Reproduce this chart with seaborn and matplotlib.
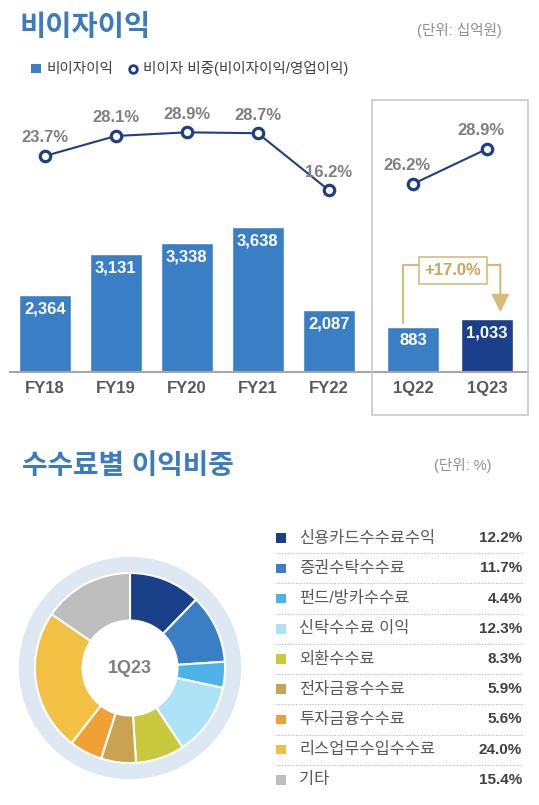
import matplotlib
matplotlib.use("Agg")
import matplotlib.pyplot as plt
from matplotlib.patches import Patch, Rectangle
from matplotlib.lines import Line2D
import seaborn as sns
import numpy as np
import pandas as pd

# yearly non-interest income (KRW bn) and its share of operating income (%)
years = ["FY18", "FY19", "FY20", "FY21", "FY22"]
nii_year = [2364, 3131, 3338, 3638, 2087]
share_year = [23.7, 28.1, 28.9, 28.7, 16.2]

# quarterly
quarters = ["1Q22", "1Q23"]
nii_q = [883, 1033]
share_q = [26.2, 28.9]
growth_label = "+17.0%"

# fee income mix, 1Q23 (%)
fee_names = ["신용카드수수료수익", "증권수탁수수료", "펀드/방카수수료", "신탁수수료 이익",
             "외환수수료", "전자금융수수료", "투자금융수수료", "리스업무수입수수료", "기타"]
fee_share = [12.2, 11.7, 4.4, 12.3, 8.3, 5.9, 5.6, 24.0, 15.4]
fee_colors = ["#1b408a", "#3a7fc6", "#4cb2e8", "#ade2f7", "#c9c93d",
              "#c9a352", "#f0a035", "#f2c043", "#bdbdbd"]

BLUE = "#3a7fc6"
NAVY = "#1e3f85"
GRAY_TXT = "#7f7f7f"
DARK_TXT = "#595959"
GOLD = "#d8bb7a"

sns.set_theme(style="white")
plt.rcParams["font.family"] = ["Liberation Sans", "Noto Sans CJK KR", "DejaVu Sans"]

W, H = 539, 805
fig = plt.figure(figsize=(W / 100, H / 100), dpi=100)


def box(l, t, r, b):
    return [l / W, 1 - b / H, (r - l) / W, (b - t) / H]


def fx(x):
    return x / W


def fy(y):
    return 1 - y / H


# ---- titles / legend ----
fig.text(fx(20), fy(28), "비이자이익", fontsize=20.5, fontweight="bold", color="#3b7cbf",
         ha="left", va="center")
fig.text(fx(502), fy(31), "(단위: 십억원)", fontsize=10.5, color="#8f8f8f", ha="right", va="center")

handles = [Patch(facecolor=BLUE, edgecolor="none"),
           Line2D([], [], linestyle="none", marker="o", markersize=5.5, markerfacecolor="white",
                  markeredgecolor=NAVY, markeredgewidth=2)]
fig.legend(handles, ["비이자이익", "비이자 비중(비이자이익/영업이익)"], loc="center left",
           bbox_to_anchor=(fx(18), fy(69)), ncol=2, frameon=False, fontsize=10.5,
           handlelength=0.65, handleheight=0.65, handletextpad=0.4, columnspacing=1.0,
           labelcolor="#404040")

fig.text(fx(22), fy(467), "수수료별 이익비중", fontsize=20, fontweight="bold", color="#3b7cbf",
         ha="left", va="center")
fig.text(fx(492), fy(465), "(단위: %)", fontsize=10.5, color="#8f8f8f", ha="right", va="center")

line_kw = dict(color=NAVY, linewidth=1.5, marker="o", markersize=7.5, markerfacecolor="white",
               markeredgecolor=NAVY, markeredgewidth=2.3)


def style_axes(ax, axl):
    for a in (ax, axl):
        a.set_xlabel("")
        a.set_ylabel("")
        a.set_yticks([])
        for s in ("left", "right", "top"):
            a.spines[s].set_visible(False)
    axl.spines["bottom"].set_visible(False)
    ax.spines["bottom"].set_color("#a6a6a6")
    ax.spines["bottom"].set_linewidth(1.5)
    ax.tick_params(axis="x", length=0, pad=6.5, labelsize=12, labelcolor=DARK_TXT)
    for lbl in ax.get_xticklabels():
        lbl.set_fontweight("bold")
    ax.patch.set_alpha(0)
    axl.patch.set_alpha(0)


# ---- yearly panel ----
ax_y = fig.add_axes(box(10, 110, 370, 372))
df_y = pd.DataFrame({"year": years, "nii": nii_year})
sns.barplot(data=df_y, x="year", y="nii", color=BLUE, saturation=1, width=0.73, ax=ax_y)
ax_y.set_ylim(922, 922 + 262 / 0.0534)
for i, v in enumerate(nii_year):
    ax_y.annotate(f"{v:,}", (i, v), xytext=(0, -10), textcoords="offset points", ha="center",
                  va="center", color="white", fontweight="bold", fontsize=12)

ax_yl = ax_y.twinx()
sns.lineplot(x=np.arange(len(years)), y=share_year, ax=ax_yl, **line_kw)
ax_yl.set_ylim(-23.7, 33.8)
for i, v in enumerate(share_year):
    ax_yl.annotate(f"{v:.1f}%", (i, v), xytext=(0, 13), textcoords="offset points", ha="center",
                   va="center", color=GRAY_TXT, fontweight="bold", fontsize=12)
ax_y.set_xlim(-0.49, 4.58)
ax_yl.set_xlim(-0.49, 4.58)
style_axes(ax_y, ax_yl)

# ---- quarterly panel ----
fig.patches.append(Rectangle((fx(372), fy(415)), 156 / W, 315 / H, transform=fig.transFigure,
                             fill=False, edgecolor="#c8c8c8", linewidth=1.2))
ax_q = fig.add_axes(box(372, 110, 528, 372))
df_q = pd.DataFrame({"q": quarters, "nii": nii_q})
sns.barplot(data=df_q, x="q", y="nii", hue="q", palette=[BLUE, "#1b3f8b"], saturation=1,
            width=0.70, legend=False, ax=ax_q)
ax_q.set_ylim(0, 262 / 0.051)
for i, v in enumerate(nii_q):
    ax_q.annotate(f"{v:,}", (i, v), xytext=(0, -10), textcoords="offset points", ha="center",
                  va="center", color="white", fontweight="bold", fontsize=12)

# growth bracket
top_lv = nii_q[1] * 2.03
ax_q.plot([-0.135, -0.135, 1.18], [nii_q[0] + 80, top_lv, top_lv], color=GOLD, lw=1.5, zorder=3)
ax_q.annotate("", xy=(1.18, nii_q[1] + 140), xytext=(1.18, top_lv + 15),
              arrowprops=dict(arrowstyle="-|>,head_width=0.45,head_length=0.9", color=GOLD,
                              lw=1.5, shrinkA=0, shrinkB=0), zorder=3)
ax_q.text(0.54, top_lv - 110, growth_label, ha="center", va="center", fontsize=12,
          fontweight="bold", color="#c9a55c", zorder=4,
          bbox=dict(boxstyle="square,pad=0.35", facecolor="white", edgecolor=GOLD, linewidth=1.2))

ax_ql = ax_q.twinx()
sns.lineplot(x=np.arange(len(quarters)), y=share_q, ax=ax_ql, **line_kw)
ax_ql.set_ylim(11.7, 31.9)
for i, v in enumerate(share_q):
    ax_ql.annotate(f"{v:.1f}%", (i, v), xytext=(-4.3, 13), textcoords="offset points",
                   ha="center", va="center", color=GRAY_TXT, fontweight="bold", fontsize=12)
ax_q.set_xlim(-0.554, 1.554)
ax_ql.set_xlim(-0.554, 1.554)
style_axes(ax_q, ax_ql)

# ---- donut ----
ax_d = fig.add_axes(box(15, 553, 245, 783))
ax_d.pie([1], radius=1.17, colors=["#dde8f3"], wedgeprops=dict(width=0.17, edgecolor="none"))
ax_d.pie(fee_share, radius=1.0, colors=fee_colors, startangle=90, counterclock=False,
         wedgeprops=dict(width=0.5, edgecolor="white", linewidth=1.5))
ax_d.text(0, 0, "1Q23", ha="center", va="center", fontsize=13, fontweight="bold", color=GRAY_TXT)
ax_d.set_xlim(-1.21, 1.21)
ax_d.set_ylim(-1.21, 1.21)
ax_d.set_aspect("equal")
ax_d.axis("off")

# ---- legend table ----
ax_t = fig.add_axes(box(270, 523, 530, 795))
n = len(fee_names)
rows = np.arange(n)
sns.scatterplot(x=np.full(n, 11), y=rows, hue=fee_names, palette=fee_colors, marker="s", s=48,
                edgecolor="none", legend=False, ax=ax_t)
for i in rows:
    ax_t.text(29, i, fee_names[i], ha="left", va="center", fontsize=11.8, color=DARK_TXT)
    ax_t.text(252, i, f"{fee_share[i]:.1f}%", ha="right", va="center", fontsize=11,
              fontweight="bold", color="#404040")
ax_t.hlines(rows + 0.5, 6, 252, colors="#b5b5b5", linewidth=0.8, linestyles=(0, (1, 1.5)))
ax_t.set_xlim(0, 260)
ax_t.set_ylim(n - 0.5, -0.5)
ax_t.axis("off")

fig.savefig("out.png", dpi=100)
